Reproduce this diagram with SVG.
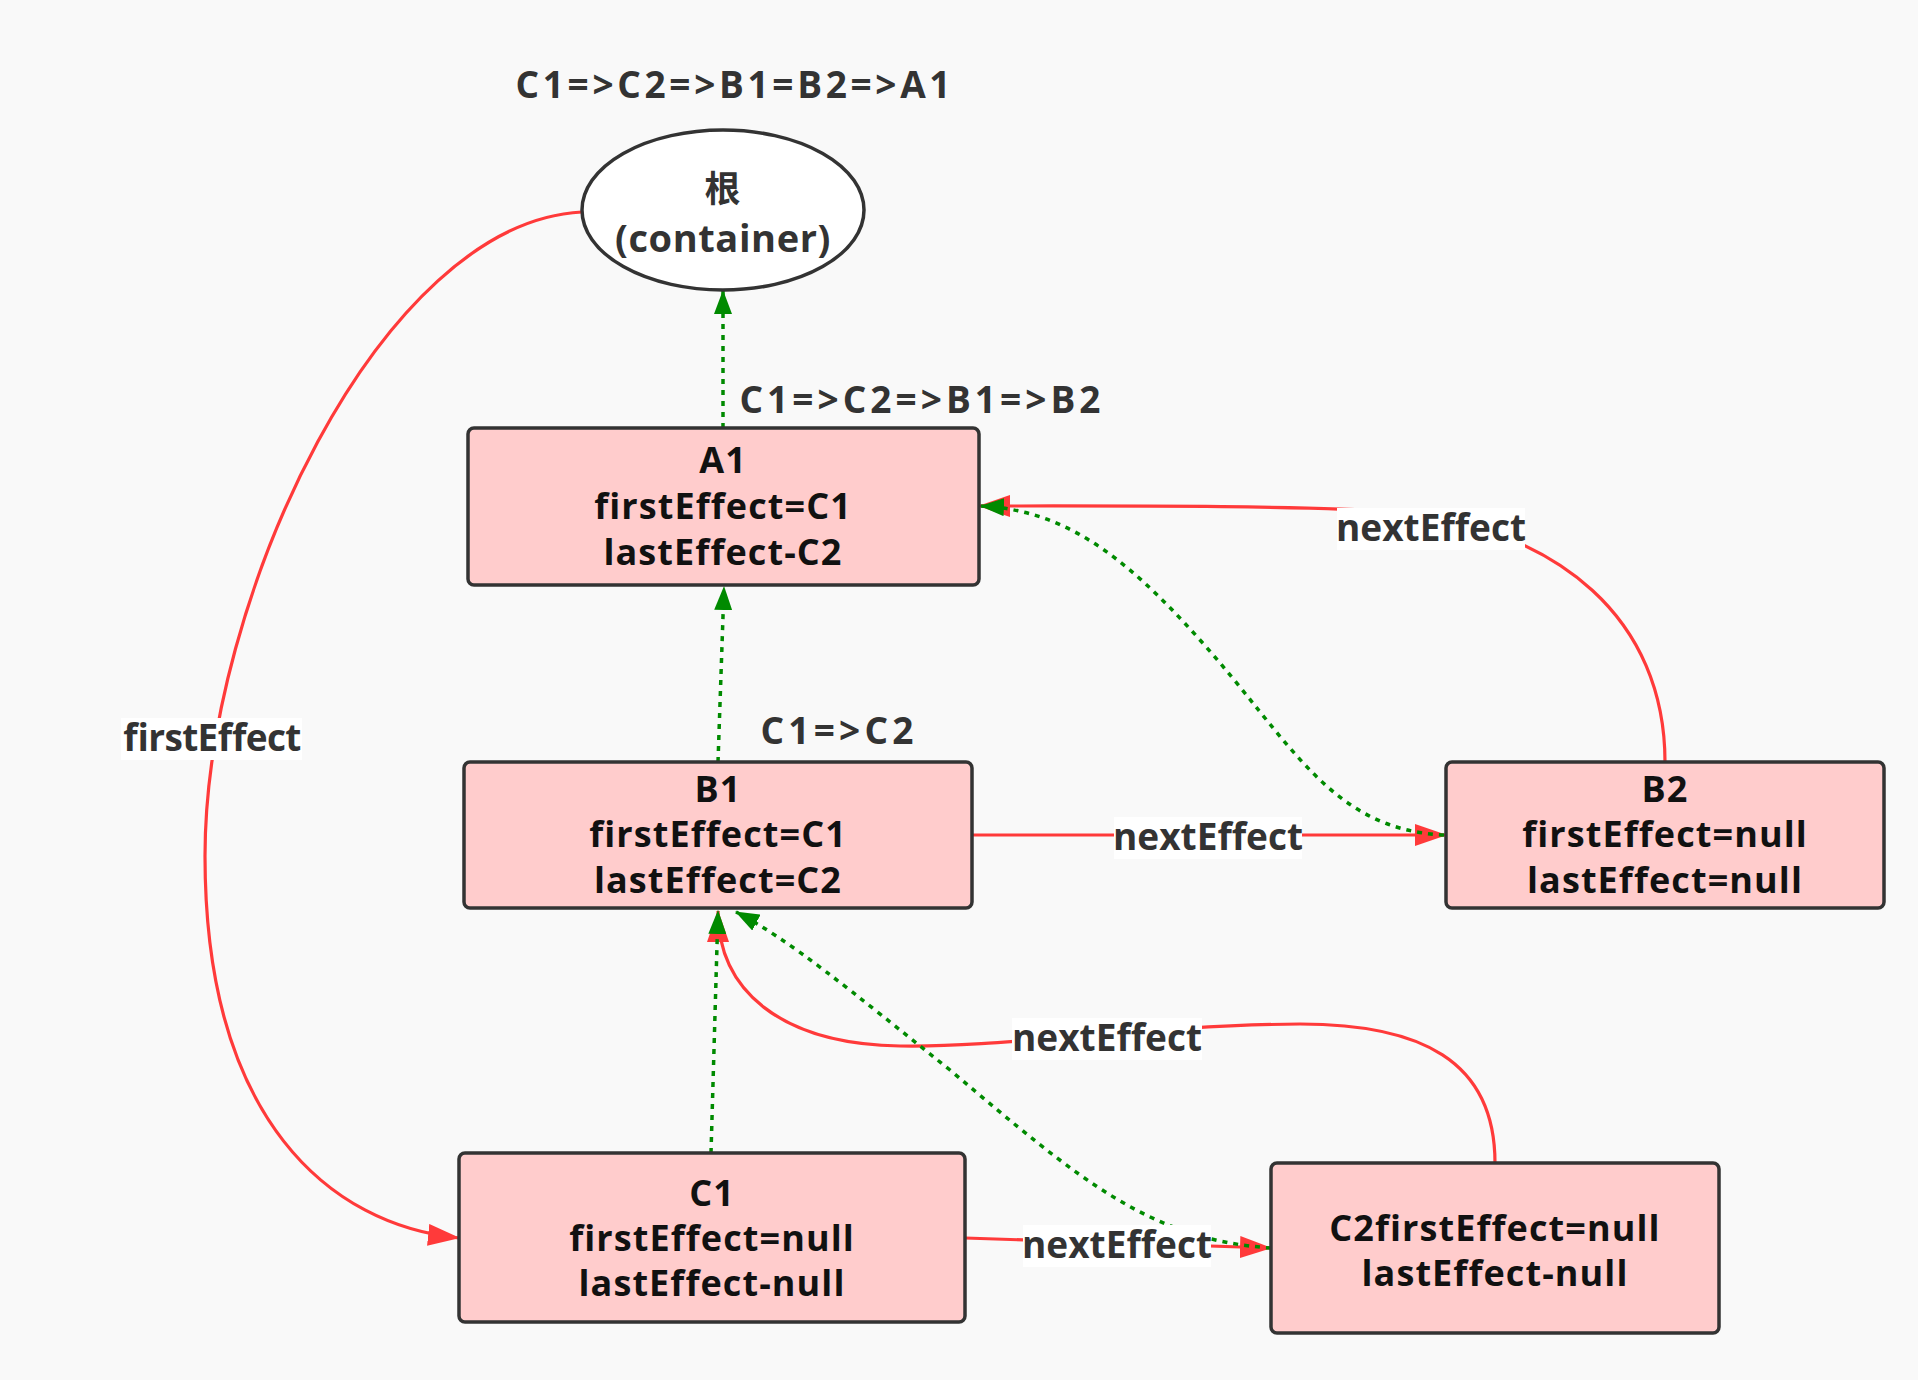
<svg xmlns="http://www.w3.org/2000/svg" width="1918" height="1380" viewBox="0 0 1918 1380">
<style>
.bg{fill:#f9f9f9}
.box{fill:#ffcccc;stroke:#333;stroke-width:3.5}
.ell{fill:#fff;stroke:#333;stroke-width:3.5}
.nt{font-family:"Open Sans","Noto Sans CJK SC",sans-serif;font-weight:bold;font-size:36px;letter-spacing:1.1px;fill:#111;text-anchor:middle}
.lt{font-family:"Open Sans","Noto Sans CJK SC",sans-serif;font-weight:bold;font-size:37px;fill:#333;text-anchor:middle}
.red{fill:none;stroke:#ff3a3a;stroke-width:3.2;marker-end:url(#ar)}
.grn{fill:none;stroke:#008a00;stroke-width:3.5;stroke-dasharray:5 6;marker-end:url(#ag)}
.lbg{fill:#fff}
</style>
<defs>
<marker id="ar" viewBox="0 0 32 22" refX="31" refY="11" markerWidth="32" markerHeight="22" markerUnits="userSpaceOnUse" orient="auto"><path d="M0,0 L32,11 L0,22 z" fill="#ff3a3a"/></marker>
<marker id="ag" viewBox="0 0 24 18" refX="23" refY="9" markerWidth="24" markerHeight="18" markerUnits="userSpaceOnUse" orient="auto"><path d="M0,0 L24,9 L0,18 z" fill="#008a00"/></marker>
</defs>
<rect class="bg" x="0" y="0" width="1918" height="1380"/>
<text class="lt" x="733" y="98" font-size="38" textLength="435" lengthAdjust="spacing">C1=&gt;C2=&gt;B1=B2=&gt;A1</text>
<g id="connectors">
<path class="red" d="M582,212 C380,222 205,600 205,856 C205,1120 330,1225 459,1238"/>
<path class="red" d="M972,835 L1446,835"/>
<path class="red" d="M1665,762 C1665,620 1560,530 1400,512 C1300,505 1100,506 979,506"/>
<path class="red" d="M1495,1163 C1495,1060 1420,1024 1300,1024 C1150,1025 1000,1048 900,1046 C780,1044 718,990 718,911"/>
<path class="red" d="M965,1238 L1271,1248"/>
<path class="grn" d="M723,428 L723,291"/>
<path class="grn" d="M718,762 L724,587"/>
<path class="grn" d="M711,1153 L718,911"/>
<path class="grn" d="M1444,835 C1330,830 1290,740 1200,640 C1120,550 1060,510 981,506"/>
<path class="grn" d="M1271,1248 C1150,1240 1080,1180 950,1070 C850,990 790,940 736,912"/>
<rect class="lbg" x="121" y="718" width="181" height="42"/>
<text class="lt" x="212" y="751" font-size="32" textLength="178" lengthAdjust="spacing">firstEffect</text>
<rect class="lbg" x="1337" y="508" width="188" height="42"/>
<text class="lt" x="1431" y="541">nextEffect</text>
<rect class="lbg" x="1114" y="817" width="188" height="42"/>
<text class="lt" x="1208" y="850">nextEffect</text>
<rect class="lbg" x="1012" y="1018" width="190" height="42"/>
<text class="lt" x="1107" y="1051">nextEffect</text>
<rect class="lbg" x="1023" y="1225" width="188" height="42"/>
<text class="lt" x="1117" y="1258">nextEffect</text>
<text class="lt" x="920" y="413" font-size="38" textLength="361" lengthAdjust="spacing">C1=&gt;C2=&gt;B1=&gt;B2</text>
<text class="lt" x="837" y="744" font-size="38" textLength="153" lengthAdjust="spacing">C1=&gt;C2</text>
</g>
<g id="root">
<ellipse class="ell" cx="723" cy="210" rx="141" ry="80"/>
<text class="nt" x="723" y="202" font-size="36" style="fill:#333">根</text>
<text class="nt" x="723" y="252" style="fill:#333;font-size:38px;letter-spacing:0.6px">(container)</text>
</g>
<g id="A1">
<rect class="box" x="468" y="428" width="511" height="157" rx="6"/>
<text class="nt" x="723" y="473">A1</text>
<text class="nt" x="723" y="519">firstEffect=C1</text>
<text class="nt" x="723" y="565">lastEffect-C2</text>
</g>
<g id="B1">
<rect class="box" x="464" y="762" width="508" height="146" rx="6"/>
<text class="nt" x="718" y="802">B1</text>
<text class="nt" x="718" y="847">firstEffect=C1</text>
<text class="nt" x="718" y="893">lastEffect=C2</text>
</g>
<g id="B2">
<rect class="box" x="1446" y="762" width="438" height="146" rx="6"/>
<text class="nt" x="1665" y="802">B2</text>
<text class="nt" x="1665" y="847">firstEffect=null</text>
<text class="nt" x="1665" y="893">lastEffect=null</text>
</g>
<g id="C1">
<rect class="box" x="459" y="1153" width="506" height="169" rx="6"/>
<text class="nt" x="712" y="1206">C1</text>
<text class="nt" x="712" y="1251">firstEffect=null</text>
<text class="nt" x="712" y="1296">lastEffect-null</text>
</g>
<g id="C2">
<rect class="box" x="1271" y="1163" width="448" height="170" rx="6"/>
<text class="nt" x="1495" y="1241">C2firstEffect=null</text>
<text class="nt" x="1495" y="1286">lastEffect-null</text>
</g>
</svg>
